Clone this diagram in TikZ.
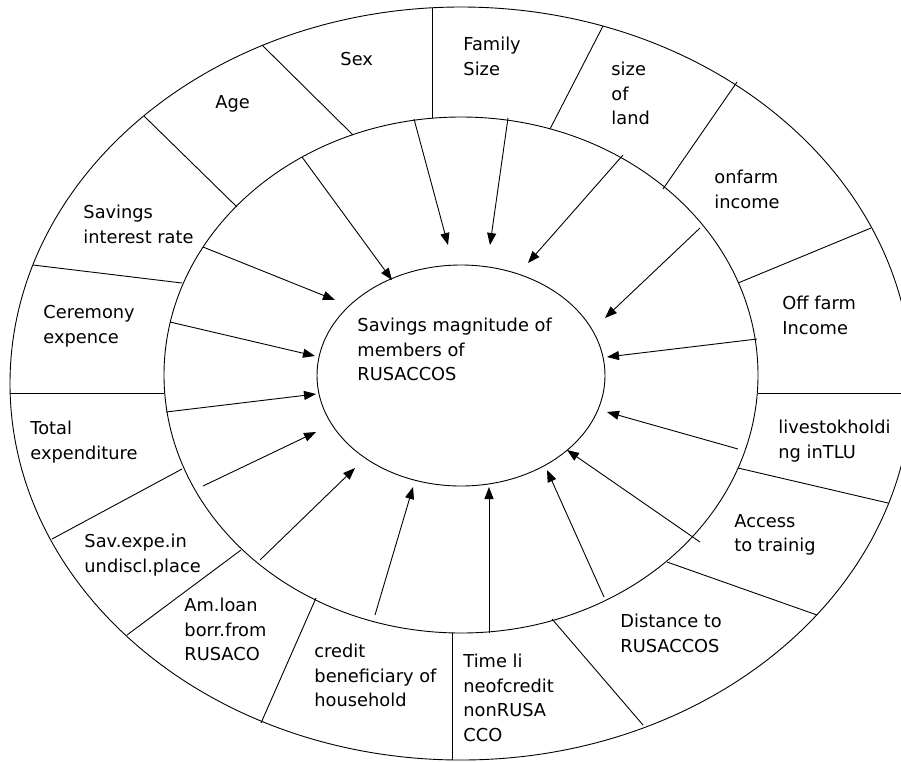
\documentclass[tikz,border=0pt]{standalone}
\usepackage{fontspec}
\setmainfont{DejaVu Sans}
\usetikzlibrary{shapes.geometric,arrows.meta}
\tikzset{
  lbl/.style={font=\fontsize{17.8}{24.5}\selectfont, align=left, anchor=north west, inner sep=0pt},
  arr/.style={-{Triangle[length=12pt,width=9pt]}}
}
\begin{document}
\begin{tikzpicture}[x=1pt,y=-1pt,line width=0.9pt]
\useasboundingbox (0,0) rectangle (901,761);
\clip (0,0) rectangle (901,761);
\fill[white] (0,0) rectangle (901,761);
\draw (461,383.5) ellipse [x radius=451, y radius=376.5];
\draw (461,375) ellipse [x radius=297, y radius=258];
\node[draw, ellipse, minimum width=288pt, minimum height=221pt, inner sep=0pt] (sav) at (461,375.5) {};
\node[lbl] (savtxt) at (357,318) {Savings magnitude of\\members of\\RUSACCOS};

% dividers of the outer ring: outer end o, inner end m
\coordinate (o1) at (432,8);     \coordinate (m1) at (432,118);
\coordinate (o2) at (603,26);    \coordinate (m2) at (550,129);
\coordinate (o3) at (737,82);    \coordinate (m3) at (663,189);
\coordinate (o4) at (871,228);   \coordinate (m4) at (738,283);
\coordinate (o5) at (912,393);   \coordinate (m5) at (758,393);
\coordinate (o6) at (888,503);   \coordinate (m6) at (738,468);
\coordinate (o7) at (817,615);   \coordinate (m7) at (667,562);
\coordinate (o8) at (643,725);   \coordinate (m8) at (552,619);
\coordinate (o9) at (452,760);   \coordinate (m9) at (452,633);
\coordinate (o10) at (261,723);  \coordinate (m10) at (316,598);
\coordinate (o11) at (127,635);  \coordinate (m11) at (241,550);
\coordinate (o12) at (52,539);   \coordinate (m12) at (182,469);
\coordinate (o13) at (10,393);   \coordinate (m13) at (164,393);
\coordinate (o14) at (33,265);   \coordinate (m14) at (182,283);
\coordinate (o15) at (144,116);  \coordinate (m15) at (237,207);
\coordinate (o16) at (262,45);   \coordinate (m16) at (353,135);
\foreach \i in {1,...,16} \draw (o\i) -- (m\i);

% arrows to the centre: start s, tip t
\coordinate (s1) at (508,118);   \coordinate (t1) at (490,245);
\coordinate (s2) at (623,155);   \coordinate (t2) at (528,263);
\coordinate (s3) at (700,228);   \coordinate (t3) at (605,318);
\coordinate (s4) at (757,339);   \coordinate (t4) at (607,357);
\coordinate (s5) at (738,449);   \coordinate (t5) at (607,412);
\coordinate (s6) at (700,542);   \coordinate (t6) at (567,450);
\coordinate (s7) at (604,597);   \coordinate (t7) at (547,470);
\coordinate (s8) at (489,633);   \coordinate (t8) at (489,487);
\coordinate (s9) at (375,615);   \coordinate (t9) at (413,487);
\coordinate (s10) at (260,560);  \coordinate (t10) at (355,468);
\coordinate (s11) at (203,486);  \coordinate (t11) at (316,432);
\coordinate (s12) at (166,412);  \coordinate (t12) at (316,394);
\coordinate (s13) at (170,322);  \coordinate (t13) at (315,356);
\coordinate (s14) at (203,247);  \coordinate (t14) at (335,300);
\coordinate (s15) at (302,157);  \coordinate (t15) at (392,280);
\coordinate (s16) at (414,119);  \coordinate (t16) at (448,245);
\foreach \i in {1,...,16} \draw[arr] (s\i) -- (t\i);

% factors
\node[lbl] (sex) at (340,52) {Sex};
\node[lbl] (family) at (463,37) {Family\\Size};
\node[lbl] (land) at (611,62) {size\\of\\land};
\node[lbl] (onfarm) at (714,170) {onfarm\\income};
\node[lbl] (offfarm) at (782,296) {Off farm\\Income};
\node[lbl] (livestock) at (778,420) {livestokholdi\\ng inTLU};
\node[lbl] (training) at (734,514) {Access\\to trainig};
\node[lbl] (distance) at (620,614) {Distance to\\RUSACCOS};
\node[lbl] (timeline) at (463,654) {Time li\\neofcredit\\nonRUSA\\CCO};
\node[lbl] (credit) at (314,644) {credit\\beneficiary of\\household};
\node[lbl] (loan) at (184,598) {Am.loan\\borr.from\\RUSACO};
\node[lbl] (undiscl) at (84,534) {Sav.expe.in\\undiscl.place};
\node[lbl] (total) at (30,421) {Total\\expenditure};
\node[lbl] (ceremony) at (43,305) {Ceremony\\expence};
\node[lbl] (interest) at (83,205) {Savings\\interest rate};
\node[lbl] (age) at (215,95) {Age};
\end{tikzpicture}
\end{document}
